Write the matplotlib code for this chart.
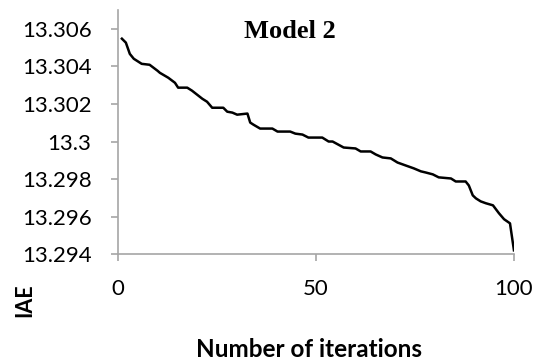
import matplotlib.pyplot as plt

# traced points of the curve (iteration, IAE)
iterations = [1, 2, 3, 4, 6, 8, 10, 10.6, 12.7, 14.4, 15.2, 17.5, 18.7, 21.3, 22.5,
              23.8, 26.6, 27.6, 28.9, 30.1, 32.7, 33.4, 34.2, 35.9, 39.0, 40.3,
              43.5, 44.8, 46.6, 48.1, 51.6, 53.2, 54.2, 57.0, 60.0, 61.3, 63.8,
              65.1, 66.8, 68.9, 70.6, 72.7, 74.7, 76.5, 77.7, 79.5, 81.0, 84.1,
              85.3, 87.8, 88.6, 89.6, 90.4, 91.6, 92.9, 94.7, 96.2, 97.5, 99.0, 100]
iae = [13.30548, 13.30527, 13.30467, 13.30441, 13.30414, 13.30409, 13.30377,
       13.30366, 13.30340, 13.30313, 13.30287, 13.30287, 13.30271, 13.30228,
       13.30212, 13.30180, 13.30180, 13.30159, 13.30154, 13.30143, 13.30149,
       13.30101, 13.30090, 13.30069, 13.30069, 13.30053, 13.30053, 13.30042,
       13.30037, 13.30021, 13.30021, 13.30000, 13.30000, 13.29968, 13.29963,
       13.29947, 13.29947, 13.29931, 13.29915, 13.29910, 13.29888, 13.29872,
       13.29857, 13.29841, 13.29835, 13.29825, 13.29809, 13.29803, 13.29787,
       13.29787, 13.29766, 13.29713, 13.29697, 13.29681, 13.29671, 13.29660,
       13.29618, 13.29586, 13.29564, 13.29420]

yticks = [13.294, 13.296, 13.298, 13.3, 13.302, 13.304, 13.306]
ylabels = ['13.294', '13.296', '13.298', '13.3', '13.302', '13.304', '13.306']
xticks = [0, 50, 100]

plt.rcParams['font.family'] = ['Lato', 'DejaVu Sans']

fig = plt.figure(figsize=(5.41, 3.63), dpi=100)
ax = fig.add_axes([0.218, 0.300, 0.732, 0.672])
ax.plot(iterations, iae, color='black', lw=1.8)

ax.set_xlim(0, 100)
ax.set_ylim(13.294, 13.307)
ax.set_yticks(yticks)
ax.set_yticklabels(ylabels)
ax.set_xticks(xticks)

grey = '#a6a6a6'
for s in ['top', 'right']:
    ax.spines[s].set_visible(False)
for s in ['left', 'bottom']:
    ax.spines[s].set_color(grey)
    ax.spines[s].set_linewidth(1.2)
ax.tick_params(axis='y', length=5, width=1.2, color=grey, labelsize=16, pad=14)
ax.tick_params(axis='x', length=5, width=1.2, color=grey, labelsize=16, pad=13)

# axis titles placed as in the source figure
fig.text(0.046, 0.174, 'IAE', rotation=90, fontsize=15.5, fontweight='bold',
         ha='center', va='center')
fig.text(0.572, 0.0165, 'Number of iterations', fontsize=17.5, fontweight='bold',
         ha='center', va='baseline')
fig.text(0.536, 0.912, 'Model 2', fontsize=19, fontweight='bold',
         family='Liberation Serif', ha='center', va='center')

plt.savefig('out.png', dpi=100)
